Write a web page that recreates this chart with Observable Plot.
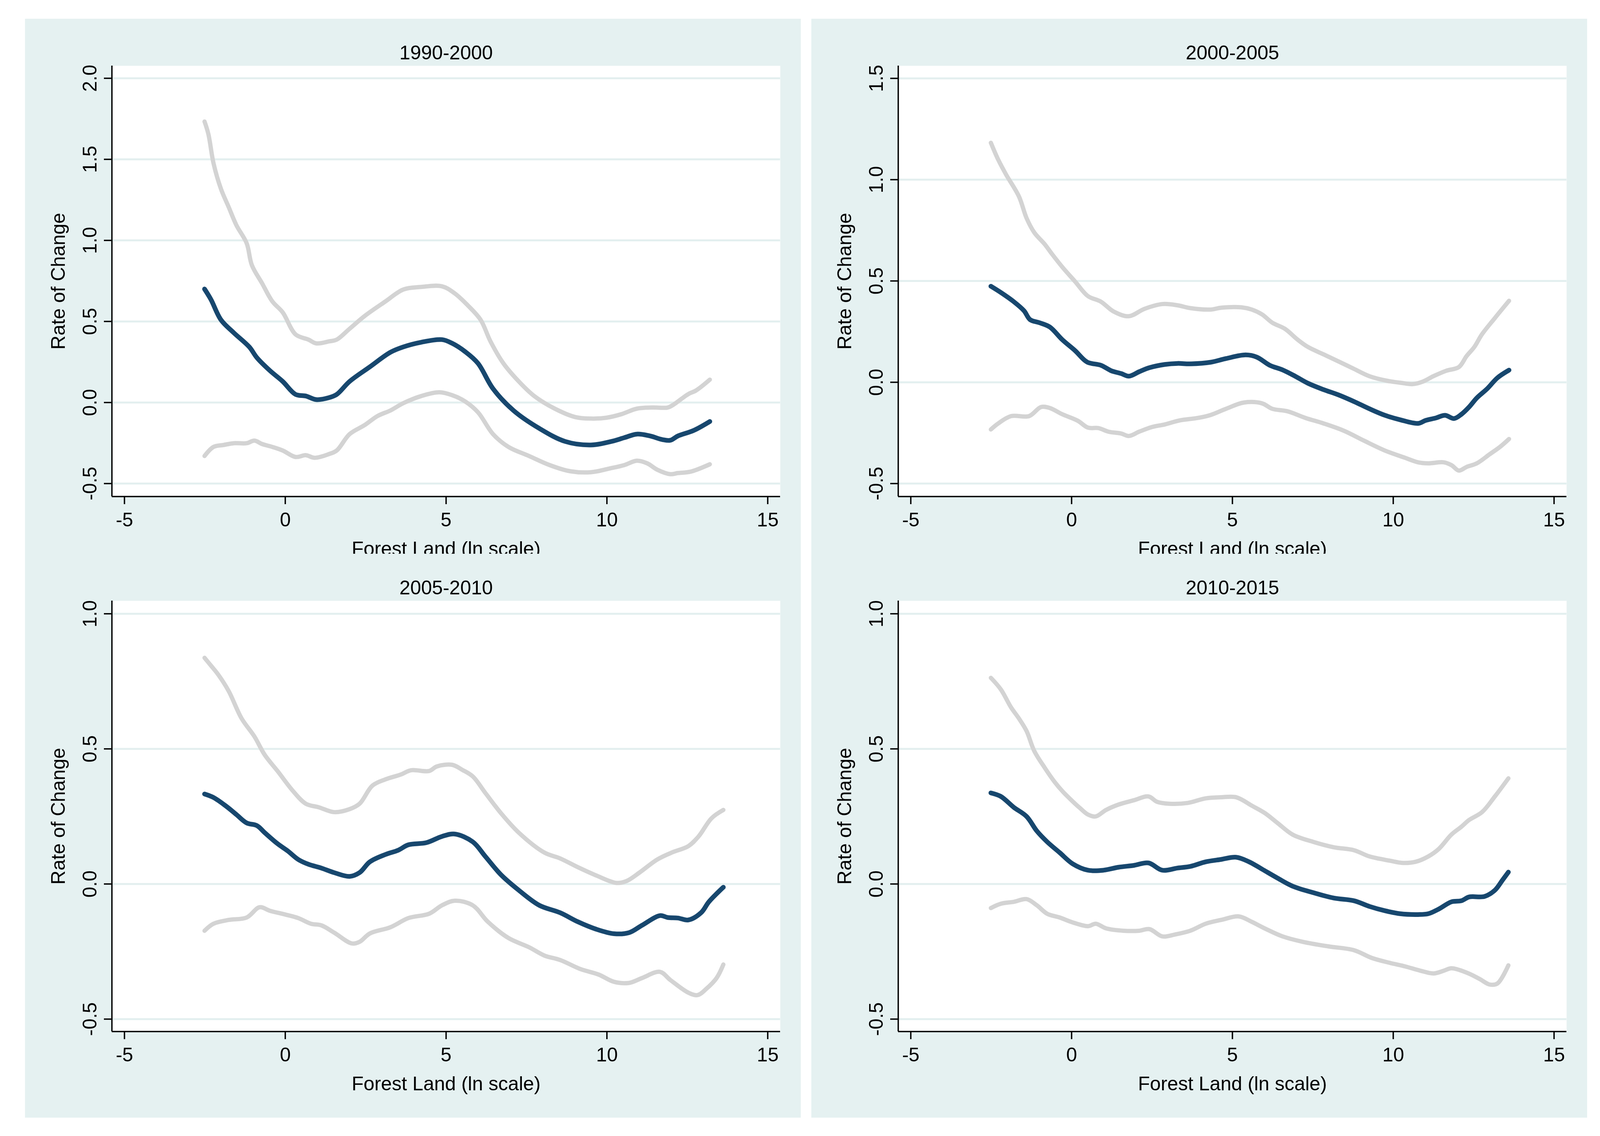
<!DOCTYPE html>
<html>
<head>
<meta charset="utf-8">
<script src="https://cdn.jsdelivr.net/npm/d3@7"></script>
<script src="https://cdn.jsdelivr.net/npm/@observablehq/plot@0.6"></script>
<style>
  html, body { margin: 0; padding: 0; background: #ffffff; }
  body { width: 4109px; height: 2909px; position: relative; overflow: hidden; }
  .panel { position: absolute; width: 1986px; height: 1444px; overflow: hidden; }
  .panel svg { display: block; max-width: none; }
</style>
</head>
<body>
<div id="p0" class="panel" style="left:64px; top:48px;"></div>
<div id="p1" class="panel" style="left:2077px; top:48px;"></div>
<div id="p2" class="panel" style="left:64px; top:1418px;"></div>
<div id="p3" class="panel" style="left:2077px; top:1418px;"></div>
<script>
// ---------- data ----------
const panelTitles = ["1990-2000", "2000-2005", "2005-2010", "2010-2015"];
const xTicks = [-5, 0, 5, 10, 15];
const xDomain = [-5.39, 15.39];
const yTicks1990 = [-0.5, 0, 0.5, 1, 1.5, 2];
const yTicks2000 = [-0.5, 0, 0.5, 1, 1.5];
const yTicks2005 = [-0.5, 0, 0.5, 1];
const yTicks2010 = [-0.5, 0, 0.5, 1];
const yDomain1990 = [-0.58, 2.077];
const yDomain2000 = [-0.564, 1.562];
const yDomain2005 = [-0.546, 1.048];
const yDomain2010 = [-0.546, 1.048];
const xTitle = "Forest Land (ln scale)";
const yTitle = "Rate of Change";

// 1990-2000
const fit1990 = [[-2.51,0.70],[-2.31,0.635],[-2.0,0.51],[-1.6,0.43],[-1.12,0.343],[-0.88,0.276],[-0.48,0.197],[-0.08,0.13],[0.32,0.05],[0.64,0.04],[0.96,0.018],[1.36,0.03],[1.6,0.05],[2.0,0.13],[2.63,0.22],[3.27,0.31],[3.67,0.343],[4.23,0.372],[4.87,0.388],[5.19,0.365],[5.59,0.314],[5.99,0.242],[6.46,0.085],[7.1,-0.05],[7.9,-0.16],[8.7,-0.24],[9.5,-0.262],[10.14,-0.24],[10.54,-0.217],[10.93,-0.195],[11.33,-0.206],[11.73,-0.229],[11.97,-0.233],[12.21,-0.206],[12.69,-0.173],[13.2,-0.117]];
const upper1990 = [[-2.51,1.733],[-2.39,1.655],[-2.23,1.475],[-2.0,1.318],[-1.76,1.206],[-1.52,1.094],[-1.2,0.982],[-1.04,0.848],[-0.72,0.735],[-0.4,0.623],[-0.08,0.556],[0.32,0.42],[0.72,0.388],[0.96,0.365],[1.36,0.377],[1.6,0.388],[2.0,0.455],[2.47,0.534],[3.11,0.623],[3.67,0.697],[4.23,0.713],[4.87,0.717],[5.27,0.673],[5.67,0.60],[6.07,0.511],[6.38,0.377],[6.78,0.242],[7.26,0.13],[7.74,0.04],[8.38,-0.038],[9.02,-0.09],[9.5,-0.099],[9.98,-0.094],[10.45,-0.072],[10.93,-0.038],[11.41,-0.031],[11.89,-0.031],[12.05,-0.016],[12.53,0.052],[12.77,0.074],[13.2,0.141]];
const lower1990 = [[-2.51,-0.33],[-2.23,-0.274],[-1.92,-0.262],[-1.6,-0.251],[-1.2,-0.251],[-0.96,-0.235],[-0.72,-0.256],[-0.4,-0.274],[-0.08,-0.296],[0.32,-0.336],[0.64,-0.325],[0.91,-0.341],[1.36,-0.318],[1.6,-0.296],[2.0,-0.195],[2.47,-0.139],[2.87,-0.083],[3.27,-0.049],[3.67,-0.004],[4.23,0.04],[4.79,0.063],[5.19,0.045],[5.59,0.007],[5.99,-0.06],[6.46,-0.195],[6.94,-0.274],[7.58,-0.33],[8.22,-0.386],[8.86,-0.424],[9.5,-0.43],[10.06,-0.408],[10.54,-0.386],[10.93,-0.359],[11.25,-0.375],[11.57,-0.415],[11.97,-0.442],[12.21,-0.435],[12.61,-0.426],[13.2,-0.381]];

// 2000-2005
const fit2000 = [[-2.51,0.474],[-2.2,0.443],[-1.8,0.398],[-1.48,0.353],[-1.29,0.309],[-1.0,0.294],[-0.68,0.273],[-0.29,0.21],[0.11,0.156],[0.48,0.10],[0.91,0.084],[1.23,0.057],[1.54,0.043],[1.78,0.03],[2.1,0.052],[2.42,0.072],[2.9,0.088],[3.29,0.093],[3.69,0.091],[4.33,0.099],[4.8,0.117],[5.41,0.135],[5.76,0.124],[6.16,0.084],[6.56,0.061],[6.95,0.03],[7.35,-0.005],[7.83,-0.036],[8.31,-0.063],[8.78,-0.095],[9.26,-0.131],[9.74,-0.163],[10.21,-0.185],[10.77,-0.203],[11.01,-0.188],[11.33,-0.176],[11.61,-0.163],[11.89,-0.179],[12.12,-0.158],[12.36,-0.122],[12.6,-0.077],[12.92,-0.032],[13.24,0.022],[13.6,0.06]];
const upper2000 = [[-2.51,1.182],[-2.28,1.098],[-2.04,1.026],[-1.64,0.918],[-1.4,0.81],[-1.16,0.739],[-0.84,0.682],[-0.6,0.631],[-0.29,0.569],[0.11,0.497],[0.51,0.425],[0.91,0.398],[1.3,0.35],[1.78,0.326],[2.26,0.362],[2.82,0.386],[3.29,0.38],[3.69,0.366],[4.33,0.359],[4.65,0.368],[5.28,0.37],[5.6,0.359],[5.92,0.335],[6.24,0.294],[6.63,0.264],[7.03,0.21],[7.35,0.174],[7.83,0.138],[8.31,0.102],[8.78,0.066],[9.26,0.03],[9.82,0.007],[10.21,-0.002],[10.61,-0.009],[10.93,0.004],[11.25,0.03],[11.65,0.057],[12.04,0.075],[12.28,0.129],[12.52,0.174],[12.76,0.237],[13.16,0.317],[13.6,0.402]];
const lower2000 = [[-2.51,-0.233],[-2.28,-0.203],[-1.88,-0.167],[-1.32,-0.167],[-0.95,-0.122],[-0.68,-0.127],[-0.29,-0.158],[0.19,-0.19],[0.51,-0.224],[0.83,-0.226],[1.15,-0.244],[1.54,-0.253],[1.78,-0.265],[2.1,-0.244],[2.5,-0.221],[2.9,-0.208],[3.37,-0.188],[3.93,-0.176],[4.33,-0.161],[4.8,-0.131],[5.36,-0.10],[5.92,-0.104],[6.24,-0.131],[6.71,-0.143],[7.27,-0.176],[7.83,-0.203],[8.46,-0.239],[9.1,-0.289],[9.74,-0.337],[10.37,-0.373],[10.77,-0.395],[11.09,-0.40],[11.57,-0.395],[11.81,-0.409],[12.04,-0.436],[12.28,-0.418],[12.6,-0.40],[13.0,-0.355],[13.32,-0.319],[13.6,-0.28]];

// 2005-2010
const fit2005 = [[-2.51,0.333],[-2.23,0.32],[-1.84,0.288],[-1.52,0.257],[-1.2,0.226],[-0.88,0.216],[-0.64,0.19],[-0.24,0.149],[0.08,0.122],[0.4,0.091],[0.72,0.073],[1.12,0.059],[1.52,0.042],[2.0,0.028],[2.31,0.042],[2.63,0.082],[3.11,0.109],[3.51,0.125],[3.83,0.145],[4.39,0.153],[4.87,0.176],[5.27,0.185],[5.83,0.156],[6.22,0.102],[6.7,0.035],[7.26,-0.023],[7.9,-0.079],[8.54,-0.106],[9.1,-0.14],[9.66,-0.167],[10.22,-0.184],[10.69,-0.18],[11.09,-0.153],[11.65,-0.117],[11.89,-0.124],[12.21,-0.126],[12.53,-0.133],[12.93,-0.106],[13.17,-0.066],[13.62,-0.012]];
const upper2005 = [[-2.51,0.837],[-2.31,0.808],[-2.08,0.774],[-1.76,0.714],[-1.36,0.613],[-0.96,0.546],[-0.64,0.478],[-0.24,0.418],[0.24,0.344],[0.64,0.297],[1.04,0.284],[1.52,0.266],[2.0,0.277],[2.31,0.297],[2.71,0.364],[3.11,0.387],[3.59,0.405],[3.91,0.421],[4.47,0.418],[4.71,0.435],[5.19,0.441],[5.51,0.422],[5.83,0.398],[6.22,0.337],[6.7,0.263],[7.26,0.19],[8.06,0.116],[8.54,0.095],[9.1,0.062],[9.66,0.032],[10.3,0.004],[10.61,0.011],[11.01,0.042],[11.57,0.091],[12.05,0.118],[12.53,0.14],[12.85,0.176],[13.25,0.243],[13.62,0.274]];
const lower2005 = [[-2.51,-0.173],[-2.23,-0.147],[-1.76,-0.133],[-1.2,-0.124],[-0.8,-0.086],[-0.48,-0.099],[0.0,-0.113],[0.4,-0.126],[0.8,-0.147],[1.12,-0.153],[1.52,-0.18],[2.07,-0.22],[2.31,-0.214],[2.63,-0.183],[3.27,-0.16],[3.83,-0.126],[4.47,-0.11],[4.87,-0.079],[5.27,-0.062],[5.83,-0.079],[6.3,-0.14],[6.94,-0.2],[7.58,-0.234],[8.06,-0.265],[8.54,-0.281],[9.18,-0.315],[9.74,-0.335],[10.22,-0.362],[10.69,-0.366],[11.09,-0.348],[11.65,-0.325],[11.97,-0.355],[12.53,-0.402],[12.82,-0.411],[13.09,-0.388],[13.41,-0.348],[13.62,-0.298]];

// 2010-2015
const fit2010 = [[-2.51,0.337],[-2.2,0.324],[-1.8,0.284],[-1.4,0.25],[-1.08,0.196],[-0.76,0.156],[-0.37,0.116],[0.03,0.075],[0.51,0.051],[0.99,0.051],[1.46,0.062],[1.94,0.069],[2.39,0.078],[2.82,0.051],[3.29,0.059],[3.69,0.065],[4.17,0.082],[4.65,0.091],[5.12,0.099],[5.52,0.082],[5.92,0.055],[6.4,0.022],[6.87,-0.008],[7.51,-0.032],[8.15,-0.052],[8.78,-0.062],[9.26,-0.083],[9.74,-0.099],[10.21,-0.11],[10.77,-0.113],[11.09,-0.11],[11.41,-0.093],[11.81,-0.066],[12.12,-0.062],[12.36,-0.048],[12.84,-0.046],[13.16,-0.023],[13.4,0.015],[13.58,0.044]];
const upper2010 = [[-2.51,0.763],[-2.2,0.72],[-1.88,0.653],[-1.64,0.613],[-1.4,0.566],[-1.16,0.492],[-0.84,0.431],[-0.53,0.378],[-0.29,0.344],[0.03,0.306],[0.27,0.28],[0.51,0.257],[0.75,0.25],[1.07,0.274],[1.46,0.294],[1.94,0.31],[2.39,0.324],[2.66,0.304],[3.05,0.297],[3.61,0.30],[4.17,0.317],[4.65,0.321],[5.12,0.321],[5.6,0.29],[6.0,0.263],[6.4,0.226],[6.87,0.183],[7.51,0.156],[8.15,0.136],[8.78,0.125],[9.26,0.102],[9.9,0.086],[10.29,0.078],[10.69,0.082],[11.09,0.102],[11.41,0.129],[11.81,0.183],[12.12,0.212],[12.36,0.237],[12.76,0.266],[13.16,0.324],[13.58,0.391]];
const lower2010 = [[-2.51,-0.089],[-2.2,-0.073],[-1.8,-0.066],[-1.4,-0.056],[-1.08,-0.079],[-0.76,-0.11],[-0.37,-0.124],[0.03,-0.142],[0.51,-0.156],[0.75,-0.147],[1.07,-0.164],[1.62,-0.173],[2.1,-0.173],[2.42,-0.167],[2.82,-0.194],[3.21,-0.187],[3.69,-0.173],[4.17,-0.147],[4.65,-0.133],[5.2,-0.12],[5.6,-0.14],[6.0,-0.164],[6.56,-0.194],[7.19,-0.214],[7.99,-0.231],[8.78,-0.245],[9.34,-0.274],[9.9,-0.292],[10.37,-0.305],[10.85,-0.321],[11.25,-0.331],[11.57,-0.321],[11.81,-0.312],[12.28,-0.328],[12.68,-0.351],[13.0,-0.372],[13.24,-0.368],[13.58,-0.301]];

// ---------- drawing ----------
const BG = "#e5f1f1";
const GRID = "#e3efef";
const FIT = "#17476e";
const CI = "#d3d3d3";
const FONT = "'Liberation Sans', Arial, Helvetica, sans-serif";

const panels = [
  {title: panelTitles[0], yTicks: yTicks1990, yDomain: yDomain1990, fit: fit1990, upper: upper1990, lower: lower1990},
  {title: panelTitles[1], yTicks: yTicks2000, yDomain: yDomain2000, fit: fit2000, upper: upper2000, lower: lower2000},
  {title: panelTitles[2], yTicks: yTicks2005, yDomain: yDomain2005, fit: fit2005, upper: upper2005, lower: lower2005},
  {title: panelTitles[3], yTicks: yTicks2010, yDomain: yDomain2010, fit: fit2010, upper: upper2010, lower: lower2010}
];

const px = d => d[0];
const py = d => d[1];

panels.forEach((p, i) => {
  const chart = Plot.plot({
    width: 1986,
    height: 1444,
    marginLeft: 222,
    marginRight: 53,
    marginTop: 120,
    marginBottom: 221,
    style: {background: BG, fontFamily: FONT, fontSize: "50px", color: "black"},
    x: {domain: xDomain},
    y: {domain: p.yDomain},
    marks: [
      Plot.frame({fill: "white", stroke: null}),
      Plot.ruleY(p.yTicks, {y: d => d, stroke: GRID, strokeWidth: 5}),
      Plot.line(p.upper, {x: px, y: py, stroke: CI, strokeWidth: 11, strokeLinecap: "round", strokeLinejoin: "round", curve: "catmull-rom"}),
      Plot.line(p.lower, {x: px, y: py, stroke: CI, strokeWidth: 11, strokeLinecap: "round", strokeLinejoin: "round", curve: "catmull-rom"}),
      Plot.line(p.fit, {x: px, y: py, stroke: FIT, strokeWidth: 12, strokeLinecap: "round", strokeLinejoin: "round", curve: "catmull-rom"}),
      Plot.ruleX([xDomain[0]], {stroke: "black", strokeWidth: 3.5}),
      Plot.ruleY([p.yDomain[0]], {stroke: "black", strokeWidth: 3.5}),
      Plot.axisY(p.yTicks, {anchor: "left", tickSize: 20, strokeWidth: 3.5, stroke: "black", tickFormat: () => "", label: null}),
      Plot.axisX(xTicks, {anchor: "bottom", tickSize: 20, strokeWidth: 3.5, stroke: "black", tickFormat: () => "", label: null}),
      Plot.text(p.yTicks, {y: d => d, frameAnchor: "left", dx: -56, rotate: -90, text: d => d.toFixed(1), fontSize: 50, fill: "black", textAnchor: "middle", lineAnchor: "middle"}),
      Plot.text(xTicks, {x: d => d, frameAnchor: "bottom", dy: 60, text: d => String(d), fontSize: 50, fill: "black", textAnchor: "middle", lineAnchor: "middle"}),
      Plot.text([p.title], {frameAnchor: "top", dy: -33, text: d => d, fontSize: 50, fill: "black", textAnchor: "middle", lineAnchor: "middle"}),
      Plot.text([xTitle], {frameAnchor: "bottom", dy: 134, text: d => d, fontSize: 50, fill: "black", textAnchor: "middle", lineAnchor: "middle"}),
      Plot.text([yTitle], {frameAnchor: "left", dx: -137, rotate: -90, text: d => d, fontSize: 50, fill: "black", textAnchor: "middle", lineAnchor: "middle"})
    ]
  });
  document.getElementById("p" + i).appendChild(chart);
});
</script>
</body>
</html>
